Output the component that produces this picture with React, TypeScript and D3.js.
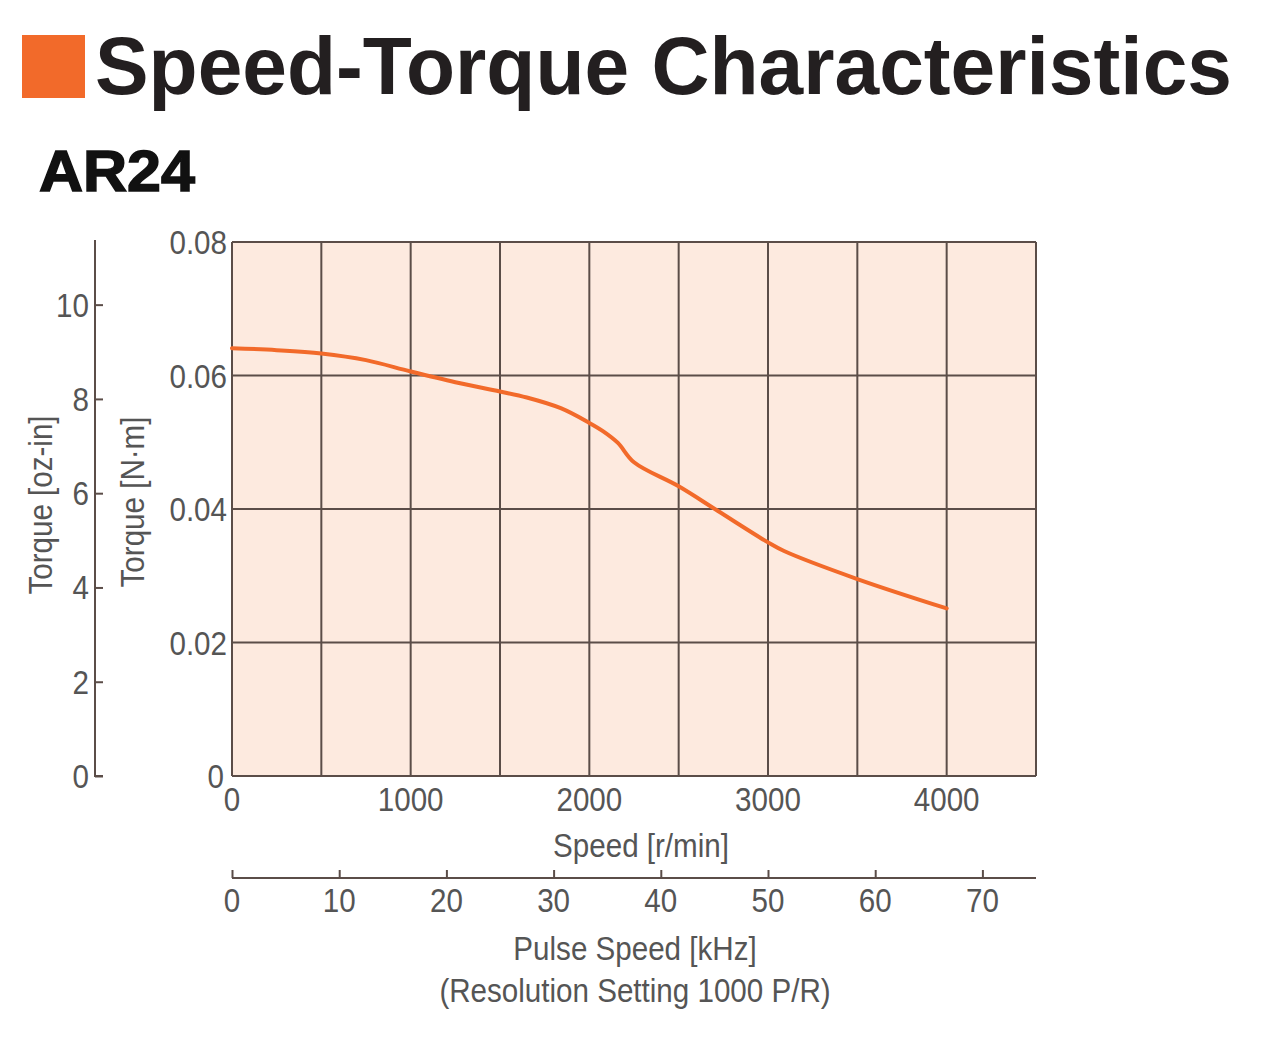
import React, { useRef, useEffect } from "react";
import * as d3 from "d3";

// AR24 speed-torque curve
const speedRpm = [0, 250, 500, 750, 1000, 1250, 1500, 1650, 1840, 2000, 2080, 2160, 2250, 2500, 2720, 3000, 3090, 3500, 4000];
const torqueNm = [0.0641, 0.0638, 0.0633, 0.0623, 0.0606, 0.0590, 0.0576, 0.0567, 0.0551, 0.0529, 0.0516, 0.0499, 0.0470, 0.0434, 0.0397, 0.0350, 0.0337, 0.0295, 0.0251];

const speedTicks = [0, 1000, 2000, 3000, 4000];
const torqueTicks = [0, 0.02, 0.04, 0.06, 0.08];
const ozInTicks = [0, 2, 4, 6, 8, 10];
const pulseTicks = [0, 10, 20, 30, 40, 50, 60, 70];

const OZIN_PER_NM = 141.612;
const RESOLUTION = 1000; // P/R

const TITLE = "Speed-Torque Characteristics";
const MODEL = "AR24";

const ORANGE = "#f26a2a";
const GRID = "#5b4d48";
const TEXT = "#555";
const FONT = "'Liberation Sans', Arial, sans-serif";
const SQUEEZE = 0.87; // the catalogue uses a condensed face

const App = () => {
  const svgRef = useRef<SVGSVGElement>(null);

  useEffect(() => {
    const width = 1280;
    const height = 1040;
    const svg = d3.select(svgRef.current);
    svg.selectAll("*").remove();
    svg.attr("width", width).attr("height", height);

    const left = 232;
    const right = 1036;
    const top = 242;
    const bottom = 776;

    const x = d3.scaleLinear().domain([0, 4500]).range([left, right]);
    const y = d3.scaleLinear().domain([0, 0.08]).range([bottom, top]);
    const yOz = d3.scaleLinear().domain([0, 0.08 * OZIN_PER_NM]).range([bottom, top]);
    const xPulse = d3
      .scaleLinear()
      .domain([0, (4500 * RESOLUTION) / 60 / 1000])
      .range([left, right]);

    // title block
    svg.append("rect").attr("x", 22).attr("y", 35).attr("width", 63).attr("height", 63).attr("fill", ORANGE);
    svg
      .append("text")
      .attr("x", 95)
      .attr("y", 94)
      .attr("font-family", FONT)
      .attr("font-weight", "bold")
      .attr("font-size", 82)
      .attr("textLength", 1137)
      .attr("lengthAdjust", "spacingAndGlyphs")
      .attr("fill", "#231f20")
      .text(TITLE);
    svg
      .append("text")
      .attr("x", 39)
      .attr("y", 191)
      .attr("font-family", FONT)
      .attr("font-weight", "bold")
      .attr("font-size", 58)
      .attr("textLength", 156)
      .attr("lengthAdjust", "spacingAndGlyphs")
      .attr("fill", "#111")
      .attr("stroke", "#111")
      .attr("stroke-width", 1.5)
      .text(MODEL);

    // plot background
    svg
      .append("rect")
      .attr("x", left)
      .attr("y", top)
      .attr("width", right - left)
      .attr("height", bottom - top)
      .attr("fill", "#fdeadf");

    // grid
    const g = svg.append("g");
    g.selectAll()
      .data(d3.range(0, 4501, 500))
      .join("line")
      .attr("x1", (d) => x(d))
      .attr("x2", (d) => x(d))
      .attr("y1", top)
      .attr("y2", bottom)
      .attr("stroke", GRID)
      .attr("stroke-width", 2);
    g.selectAll()
      .data(torqueTicks)
      .join("line")
      .attr("x1", left)
      .attr("x2", right)
      .attr("y1", (d) => y(d))
      .attr("y2", (d) => y(d))
      .attr("stroke", GRID)
      .attr("stroke-width", 2);

    // curve
    const pts = speedRpm.map((s, i) => [s, torqueNm[i]] as [number, number]);
    svg
      .append("path")
      .datum(pts)
      .attr("fill", "none")
      .attr("stroke", ORANGE)
      .attr("stroke-width", 4)
      .attr("stroke-linejoin", "round")
      .attr("stroke-linecap", "round")
      .attr(
        "d",
        d3
          .line()
          .x((d) => x(d[0]))
          .y((d) => y(d[1]))
          .curve(d3.curveCatmullRom.alpha(0.5))
      );

    // condensed text helper
    const txt = (parent, s, tx, ty, anchor = "middle", rot = 0) =>
      parent
        .append("text")
        .attr("transform", `translate(${tx},${ty}) rotate(${rot}) scale(${SQUEEZE},1)`)
        .attr("text-anchor", anchor)
        .attr("font-family", FONT)
        .attr("font-size", 34)
        .attr("fill", TEXT)
        .text(s);

    const labels = svg.append("g");

    // N·m tick labels
    torqueTicks.forEach((d) =>
      txt(labels, d === 0 ? "0" : d3.format(".2f")(d), d === 0 ? 224 : 227, y(d) + 12, "end")
    );

    // speed tick labels
    speedTicks.forEach((d) => txt(labels, String(d), x(d), 811));

    // oz-in axis
    const ozAxis = svg
      .append("g")
      .attr("transform", "translate(95,0)")
      .call(d3.axisRight(yOz).tickValues(ozInTicks).tickSize(8).tickFormat(() => ""));
    ozAxis.select(".domain").attr("stroke", GRID).attr("stroke-width", 2).attr("d", `M0,${top - 2}V${bottom}H8`);
    ozAxis.selectAll(".tick line").attr("stroke", GRID).attr("stroke-width", 2);
    ozInTicks.forEach((d) => txt(labels, String(d), 89, yOz(d) + 12, "end"));

    // pulse axis
    const pAxis = svg
      .append("g")
      .attr("transform", "translate(0,878)")
      .call(d3.axisTop(xPulse).tickValues(pulseTicks).tickSize(8).tickFormat(() => ""));
    pAxis.select(".domain").attr("stroke", GRID).attr("stroke-width", 2).attr("d", `M${left},0H${right}`);
    pAxis.selectAll(".tick line").attr("stroke", GRID).attr("stroke-width", 2);
    pulseTicks.forEach((d) => txt(labels, String(d), xPulse(d), 912));

    // axis titles
    txt(labels, "Speed [r/min]", 641, 857);
    txt(labels, "Pulse Speed [kHz]", 635, 960);
    txt(labels, "(Resolution Setting 1000 P/R)", 635, 1002);
    txt(labels, "Torque [oz-in]", 52, 505, "middle", -90);
    txt(labels, "Torque [N·m]", 144, 502, "middle", -90);
  }, []);

  return <svg ref={svgRef} style={{ position: "absolute", left: 0, top: 0 }}></svg>;
};

export default App;
